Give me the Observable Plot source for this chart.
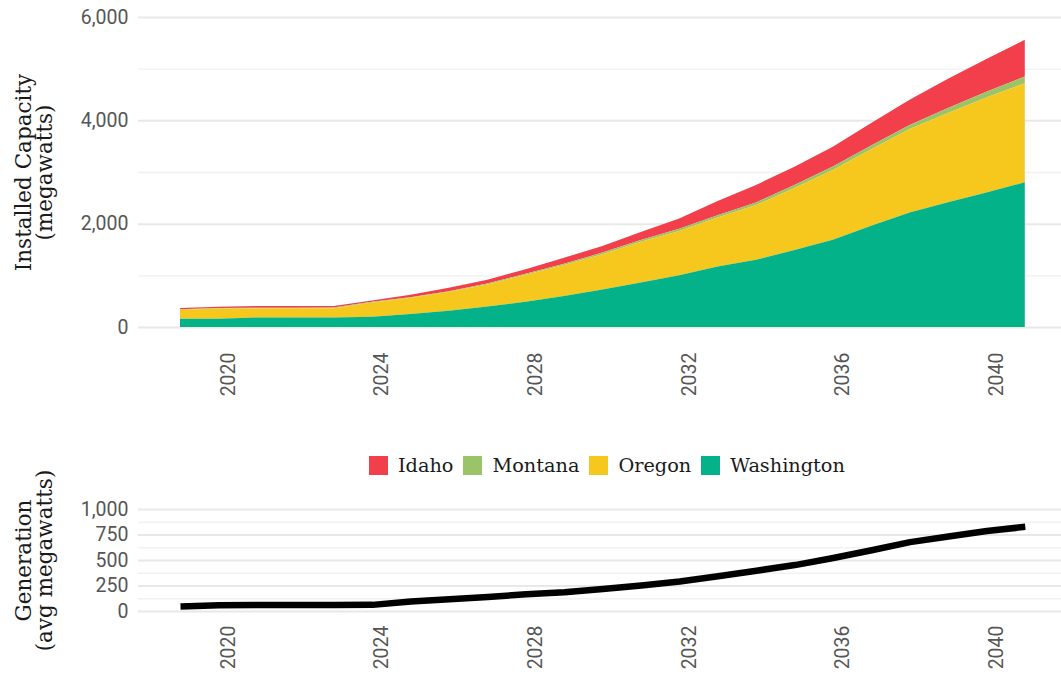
<!DOCTYPE html>
<html><head><meta charset="utf-8">
<script src="https://cdn.jsdelivr.net/npm/d3@7"></script>
<script src="https://cdn.jsdelivr.net/npm/@observablehq/plot@0.6"></script>
<style>
body{margin:0;background:#fff;}
#wrap{width:1061px;height:677px;position:relative;overflow:hidden;background:#fff}
#wrap > *{position:absolute;left:0}
#wrap > .legend{left:369px}
.legend{display:flex;align-items:center;height:26px;font-family:"DejaVu Serif",serif;font-size:19.3px;color:#1a1a1a;white-space:nowrap}
.legend .item{display:flex;align-items:center;margin-right:10px}
.legend .sw{width:19px;height:19px;margin-right:10px}
</style></head><body><div id="wrap"></div>
<script>
// time points (decimal years)
const times = [2018.75, 2019.75, 2020.75, 2021.75, 2022.75, 2023.75, 2024.75, 2025.75, 2026.75, 2027.75, 2028.75, 2029.75, 2030.75, 2031.75, 2032.75, 2033.75, 2034.75, 2035.75, 2036.75, 2037.75, 2038.75, 2039.75, 2040.75];
// installed capacity (MW) by state
const washington = [160, 160, 186, 186, 186, 200, 250, 315, 395, 490, 600, 725, 860, 1000, 1170, 1300, 1490, 1690, 1958, 2215, 2413, 2604, 2800];
const oregon     = [175, 200, 174, 176, 178, 275, 315, 365, 430, 520, 600, 685, 790, 860, 950, 1060, 1200, 1350, 1482, 1615, 1730, 1836, 1920];
const montana    = [10, 10, 12, 12, 12, 12, 13, 13, 15, 20, 25, 30, 35, 40, 45, 50, 60, 65, 75, 80, 96, 111, 130];
const idaho      = [22, 20, 33, 32, 32, 28, 47, 67, 75, 90, 115, 130, 155, 200, 275, 340, 350, 385, 435, 490, 565, 637, 710];
// generation (avg MW)
const generation = [50, 62, 63, 63, 64, 65, 98, 120, 142, 168, 188, 220, 255, 295, 345, 400, 455, 525, 600, 680, 735, 790, 830];

const states = ["Idaho", "Montana", "Oregon", "Washington"];
const stateColors = ["#f23f4b", "#9bc368", "#f6c71c", "#04b28a"];
const stackOrder = ["Washington", "Oregon", "Montana", "Idaho"];
const capTicks = [0, 2000, 4000, 6000];
const capMinor = [1000, 3000, 5000];
const genTicks = [0, 250, 500, 750, 1000];
const genMinor = [125, 375, 625, 875];
const yearTicks = [2020, 2024, 2028, 2032, 2036, 2040];
const capTitle = "Installed Capacity\n(megawatts)";
const genTitle = "Generation\n(avg megawatts)";

const series = {Washington: washington, Oregon: oregon, Montana: montana, Idaho: idaho};
const capData = [];
times.forEach((t, i) => { for (const s of states) capData.push({t, state: s, value: series[s][i]}); });
const genData = times.map((t, i) => ({t, value: generation[i]}));

const xDomain = [2017.656, 2041.693];
const baseStyle = {fontFamily: "Roboto, sans-serif", fontSize: "19.5px", color: "#555", background: "white", overflow: "visible"};

const topPlot = Plot.plot({
  width: 1061, height: 405, marginLeft: 138, marginRight: 0, marginTop: 17, marginBottom: 78,
  style: baseStyle,
  x: {domain: xDomain},
  y: {domain: [0, 6000]},
  color: {domain: states, range: stateColors},
  marks: [
    Plot.ruleY(capMinor, {stroke: "#f1f1f1", strokeWidth: 1.4}),
    Plot.ruleY(capTicks, {stroke: "#e8e8e8", strokeWidth: 2}),
    Plot.areaY(capData, {x: "t", y: "value", fill: "state", order: stackOrder}),
    Plot.axisY({ticks: capTicks, tickSize: 0, tickPadding: 10, tickFormat: d3.format(","), label: null}),
    Plot.axisX({ticks: yearTicks, tickSize: 0, tickPadding: 25, tickRotate: -90, tickFormat: d => String(d), label: null}),
    Plot.text([capTitle], {frameAnchor: "left", textAnchor: "middle", lineAnchor: "middle", rotate: -90, dx: -104, fontFamily: "DejaVu Serif", fontSize: 21.5, fill: "#1a1a1a", lineHeight: 1.0})
  ]
});

const bottomPlot = Plot.plot({
  width: 1061, height: 187, marginLeft: 138, marginRight: 0, marginTop: 19, marginBottom: 66,
  style: baseStyle,
  x: {domain: xDomain},
  y: {domain: [0, 1000]},
  marks: [
    Plot.ruleY(genMinor, {stroke: "#f1f1f1", strokeWidth: 1.4}),
    Plot.ruleY(genTicks, {stroke: "#e8e8e8", strokeWidth: 2}),
    Plot.line(genData, {x: "t", y: "value", stroke: "black", strokeWidth: 6.5, strokeLinecap: "butt"}),
    Plot.axisY({ticks: genTicks, tickSize: 0, tickPadding: 10, tickFormat: d3.format(","), label: null}),
    Plot.axisX({ticks: yearTicks, tickSize: 0, tickPadding: 14, tickRotate: -90, tickFormat: d => String(d), label: null}),
    Plot.text([genTitle], {frameAnchor: "left", textAnchor: "middle", lineAnchor: "middle", rotate: -90, dx: -104, fontFamily: "DejaVu Serif", fontSize: 21.5, fill: "#1a1a1a", lineHeight: 1.0})
  ]
});

const wrap = document.getElementById("wrap");
topPlot.style.top = "0px";
wrap.appendChild(topPlot);

const legend = document.createElement("div");
legend.className = "legend";
legend.style.top = "452px";
states.forEach((s, i) => {
  const item = document.createElement("div");
  item.className = "item";
  const sw = document.createElement("div");
  sw.className = "sw";
  sw.style.background = stateColors[i];
  const lab = document.createElement("span");
  lab.textContent = s;
  item.appendChild(sw); item.appendChild(lab);
  legend.appendChild(item);
});
wrap.appendChild(legend);

bottomPlot.style.top = "490px";
wrap.appendChild(bottomPlot);
</script>
</body></html>
